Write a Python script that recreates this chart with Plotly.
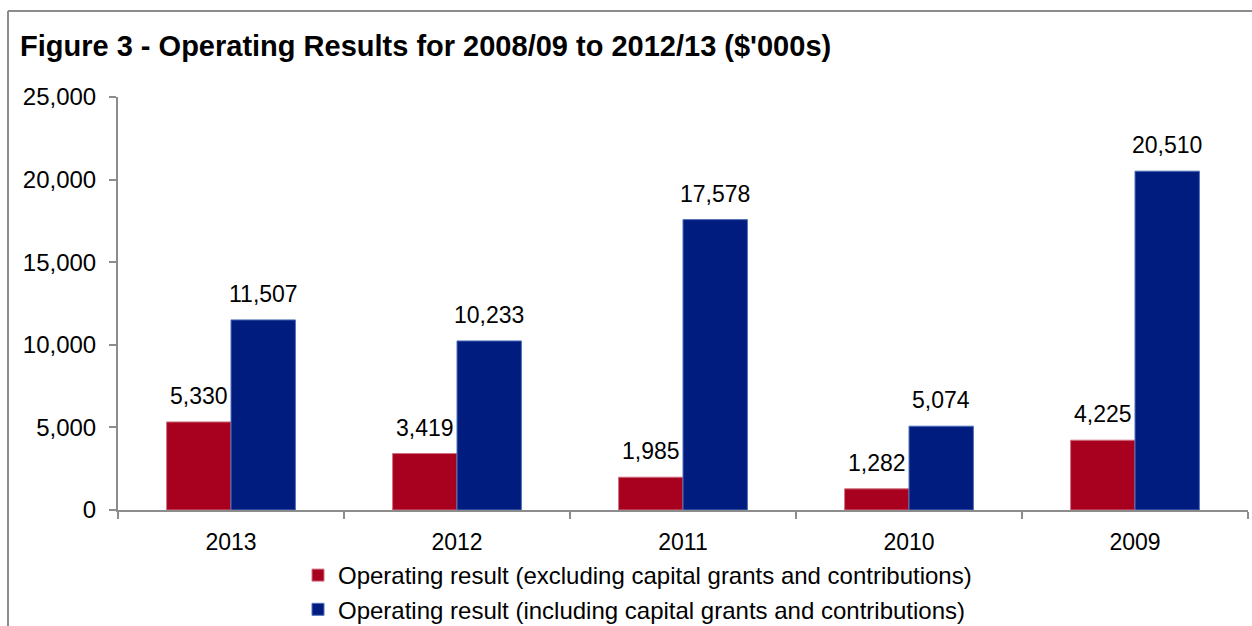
import plotly.graph_objects as go

# Operating results by financial year ($'000s)
years = ["2013", "2012", "2011", "2010", "2009"]
excl_capital = [5330, 3419, 1985, 1282, 4225]
incl_capital = [11507, 10233, 17578, 5074, 20510]
y_ticks = [0, 5000, 10000, 15000, 20000, 25000]

RED = "#A8001F"
BLUE = "#001C7F"
GREY = "#8C8C8C"
FONT = "Liberation Sans, Arial, sans-serif"

W, H = 1252, 626
L, R, T, B = 118, 4, 97, 116
pw, ph = W - L - R, H - T - B

fig = go.Figure()
fig.add_trace(go.Bar(
    x=years, y=excl_capital, legendgroup="excl",
    name="Operating result (excluding capital grants and contributions)",
    marker=dict(color=RED, line=dict(color="#D07080", width=1)),
))
fig.add_trace(go.Bar(
    x=years, y=incl_capital, legendgroup="incl",
    name="Operating result (including capital grants and contributions)",
    marker=dict(color=BLUE, line=dict(color="#5070B8", width=1)),
))

# value labels above each bar (x given as category index)
for idx, series in enumerate([excl_capital, incl_capital]):
    for i, v in enumerate(series):
        fig.add_annotation(
            x=i, y=v, text=f"{v:,}", showarrow=False,
            xref="x", yref="y", yanchor="bottom", yshift=11,
            xshift=(-32 if idx == 0 else 32),
            font=dict(family=FONT, size=23, color="black"),
        )

# chart frame (gray border running off the right and bottom edges)
fx = (8 - L) / pw
fy = (H - B - 11) / ph
fig.add_shape(type="line", xref="paper", yref="paper",
              x0=fx, x1=fx, y0=-0.5, y1=fy, line=dict(color=GREY, width=2))
fig.add_shape(type="line", xref="paper", yref="paper",
              x0=fx, x1=1.1, y0=fy, y1=fy, line=dict(color=GREY, width=2))

fig.update_layout(
    width=W, height=H,
    margin=dict(l=L, r=R, t=T, b=B, autoexpand=False),
    paper_bgcolor="white", plot_bgcolor="white",
    barmode="group", bargap=0.43, bargroupgap=0,
    title=dict(text="<b>Figure 3 - Operating Results for 2008/09 to 2012/13 ($'000s)</b>",
               x=20 / W, xanchor="left", y=1 - 46 / H, yanchor="middle",
               font=dict(family=FONT, size=29, color="black")),
    font=dict(family=FONT, size=23, color="black"),
    legend=dict(x=(298 - L) / pw, y=(H - B - 553) / ph, xanchor="left", yanchor="top",
                font=dict(family=FONT, size=24, color="black"),
                bgcolor="rgba(0,0,0,0)", traceorder="grouped", tracegroupgap=0),
    showlegend=True,
)
fig.update_xaxes(
    type="category", categoryorder="array", categoryarray=years,
    range=[-0.5, len(years) - 0.5], automargin=False,
    showline=True, linecolor=GREY, linewidth=2,
    ticks="outside", tickson="boundaries", ticklen=7, tickcolor=GREY, tickwidth=2,
    ticklabelstandoff=10,
    tickfont=dict(family=FONT, size=23, color="black"), showgrid=False,
)
fig.update_yaxes(
    range=[0, 25000], tickvals=y_ticks, tickformat=",", automargin=False,
    showline=True, linecolor=GREY, linewidth=2,
    ticks="outside", ticklen=7, tickcolor=GREY, tickwidth=2,
    ticklabelstandoff=8,
    tickfont=dict(family=FONT, size=24, color="black"), showgrid=False, zeroline=False,
)

fig.write_html("out.html")
